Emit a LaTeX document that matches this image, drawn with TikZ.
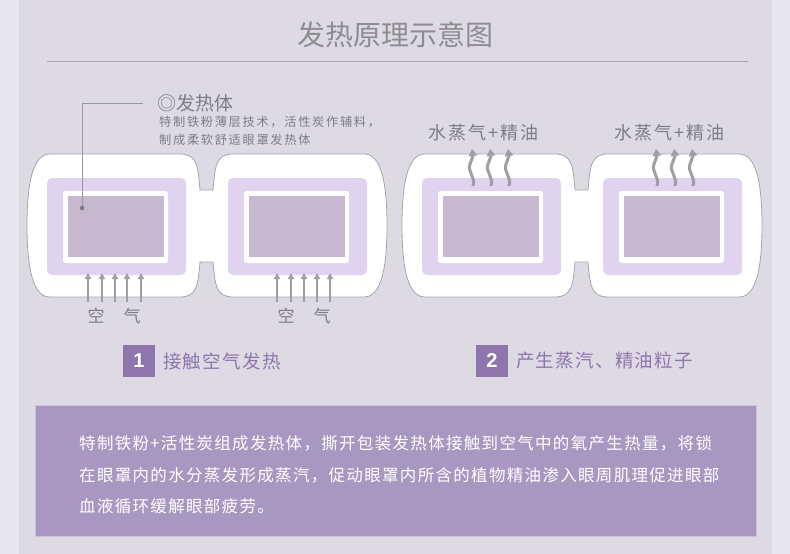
\documentclass[tikz,border=0pt]{standalone}
\usepackage{fontspec}
\setmainfont{Noto Sans CJK SC}
\newfontfamily\digitfont{Liberation Sans}
\usetikzlibrary{arrows.meta}
\definecolor{stripc}{HTML}{E9E7EE}
\definecolor{panelbg}{HTML}{DDDAE3}
\definecolor{titlegray}{HTML}{8E8C90}
\definecolor{linegray}{HTML}{A9A7AD}
\definecolor{maskline}{HTML}{A6A3AA}
\definecolor{lilac}{HTML}{DFD3EF}
\definecolor{padc}{HTML}{C5B8CF}
\definecolor{arrowgray}{HTML}{A19DA6}
\definecolor{stepc}{HTML}{8E76AD}
\definecolor{boxc}{HTML}{A898C1}
\definecolor{textgray}{HTML}{7F7D82}
\tikzset{
  maskshape/.style={fill=white,draw=maskline,line width=0.8pt},
  lilacbox/.style={fill=lilac,rounded corners=5pt},
  whitebox/.style={fill=white,rounded corners=2.5pt},
  padbox/.style={fill=padc},
  airarrow/.style={draw=arrowgray,line width=1.6pt,-{Triangle[width=6pt,length=6pt]}},
  steamarrow/.style={draw=arrowgray,line width=3pt,-{Triangle[width=8.5pt,length=7pt]}},
  airtext/.style={text=textgray,font=\fontsize{17}{17}\selectfont,inner sep=0pt},
  steamtext/.style={text=textgray,font=\fontsize{18}{18}\selectfont\addfontfeature{LetterSpace=12},inner sep=0pt,anchor=west},
  stepnum/.style={fill=stepc,text=white,minimum width=32pt,minimum height=32pt,inner sep=0pt,font=\digitfont\bfseries\fontsize{20}{20}\selectfont},
  steptext/.style={text=stepc,anchor=west,inner sep=0pt,font=\fontsize{18.5}{18.5}\selectfont\addfontfeature{LetterSpace=7}},
  bodytext/.style={text=white,anchor=west,inner sep=0pt,font=\fontsize{16.5}{16.5}\selectfont\addfontfeature{LetterSpace=8}},
}
\begin{document}
\begin{tikzpicture}[x=1pt,y=-1pt]
\useasboundingbox (0,0) rectangle (790,554);
\fill[stripc] (0,0) rectangle (790,554);
\fill[panelbg] (19,0) rectangle (772,554);
% title
\node[text=titlegray,font=\fontsize{28}{28}\selectfont,inner sep=0pt] (title) at (395,35) {发热原理示意图};
\draw[linegray,line width=0.9pt] (47,61) -- (748,61);
% two masks
\foreach \s in {0,375}{
  \begin{scope}[xshift=\s]
    \draw[maskshape] (200,190) .. controls (198,166) and (197,154) .. (180,154) -- (50,154)
      .. controls (33,154) and (27,182) .. (27,225.5) .. controls (27,269) and (33,297) .. (50,297)
      -- (180,297) .. controls (197,297) and (198,285) .. (200,262) -- (213,262)
      .. controls (215,285) and (216,297) .. (233,297) -- (364,297)
      .. controls (381,297) and (387,269) .. (387,225.5) .. controls (387,182) and (381,154) .. (364,154)
      -- (233,154) .. controls (216,154) and (215,166) .. (213,190) -- cycle;
    \foreach \l in {0,181}{
      \begin{scope}[xshift=\l]
        \fill[lilacbox] (47,178) rectangle (186,275);
        \fill[whitebox] (63,191) rectangle (168,263);
        \fill[padbox] (68,196) rectangle (164,257);
      \end{scope}
    }
  \end{scope}
}
% leader to heating element
\coordinate (dot) at (82,208);
\coordinate (corner) at (82,103);
\coordinate (lend) at (143,103);
\draw[textgray!80,line width=0.8pt] (dot) -- (corner) -- (lend);
\fill[textgray] (dot) circle (2.3pt);
\node[anchor=west,inner sep=0pt,text=textgray,font=\fontsize{19}{19}\selectfont] (heat) at (157,103) {◎发热体};
\node[anchor=west,inner sep=0pt,text=textgray,font=\fontsize{12.2}{12.2}\selectfont\addfontfeature{LetterSpace=14}] (desc1) at (159,122) {特制铁粉薄层技术，活性炭作辅料，};
\node[anchor=west,inner sep=0pt,text=textgray,font=\fontsize{12.2}{12.2}\selectfont\addfontfeature{LetterSpace=14}] (desc2) at (159,140) {制成柔软舒适眼罩发热体};
% air arrows
\foreach \x in {88,102,115,127,141,277,291,304,317,330}{
  \coordinate (as\x) at (\x,302);
  \coordinate (ae\x) at (\x,273);
  \draw[airarrow] (as\x) -- (ae\x);
}
\node[airtext] (k1) at (96,316) {空};
\node[airtext] (q1) at (132,316) {气};
\node[airtext] (k2) at (286,316) {空};
\node[airtext] (q2) at (322,316) {气};
% steam arrows
\foreach \x in {472,490,508,656,674,692}{
  \draw[steamarrow] (\x+1,186) .. controls (\x+4,177) and (\x-5,172) .. (\x-2,164)
     .. controls (\x,159) and (\x+1,156) .. (\x,149);
}
\node[steamtext] (st1) at (428,133) {水蒸气+精油};
\node[steamtext] (st2) at (614,133) {水蒸气+精油};
% step labels
\node[stepnum] (n1) at (139,361) {1};
\node[steptext] (t1) at (163,361) {接触空气发热};
\node[stepnum] (n2) at (492,361) {2};
\node[steptext] (t2) at (516,361) {产生蒸汽、精油粒子};
% bottom panel
\fill[boxc] (35,405) rectangle (757,537);
\draw[white!40!boxc,line width=0.8pt] (35.4,405.4) rectangle (756.6,536.6);
\node[bodytext] (b1) at (79,443) {特制铁粉+活性炭组成发热体，撕开包装发热体接触到空气中的氧产生热量，将锁};
\node[bodytext] (b2) at (79,475) {在眼罩内的水分蒸发形成蒸汽，促动眼罩内所含的植物精油渗入眼周肌理促进眼部};
\node[bodytext] (b3) at (79,506) {血液循环缓解眼部疲劳。};
\end{tikzpicture}
\end{document}
